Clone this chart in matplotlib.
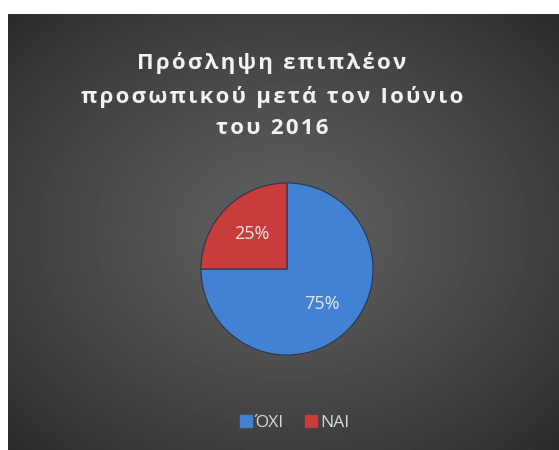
import numpy as np
import matplotlib.pyplot as plt
from matplotlib.lines import Line2D

# data
categories = ['ΌΧΙ', 'ΝΑΙ']
values = [75, 25]
colors = ['#4282d2', '#c83c3c']
title_lines = ['Πρόσληψη επιπλέον', 'προσωπικού μετά τον Ιούνιο', 'του 2016']

W, H = 559, 450
fig = plt.figure(figsize=(W / 100, H / 100), dpi=100)
fig.patch.set_facecolor('white')

# chart area with radial gradient
bg = fig.add_axes([8 / W, 0, (W - 8) / W, (H - 14) / H])
yy, xx = np.mgrid[0:1:300j, 0:1:400j]
r = np.sqrt(((xx - 0.5) / 0.75) ** 2 + ((yy - 0.5) / 0.75) ** 2)
r = np.clip(r / 0.95, 0, 1)
c0, c1 = 0.37, 0.17
img = c0 + (c1 - c0) * r ** 1.3
bg.imshow(img, cmap='gray', vmin=0, vmax=1, extent=[0, 1, 0, 1], aspect='auto')
bg.set_axis_off()


def spaced(s):
    return '\u200a'.join(s)


for txt, y in zip(title_lines, [63, 97, 128]):
    fig.text(272 / W, 1 - y / H, spaced(txt), ha='center', va='center',
             fontsize=16, fontweight='bold', color='#f2f2f2',
             family=['Open Sans', 'DejaVu Sans'])

# pie
cx, cy, rad = 287, 269, 86
ax = fig.add_axes([(cx - rad) / W, (H - cy - rad) / H, 2 * rad / W, 2 * rad / H])
wedges, texts, autotexts = ax.pie(
    values, colors=colors, startangle=90, counterclock=False,
    autopct='%1.0f%%', pctdistance=0.58,
    wedgeprops=dict(edgecolor='#2a3550', linewidth=0.8),
    textprops=dict(color='#e6e6e6', fontsize=13, family='Open Sans'))
ax.set_xlim(-1, 1)
ax.set_ylim(-1, 1)
ax.set_aspect('equal')
ax.set_axis_off()

handles = [Line2D([], [], marker='s', linestyle='', markersize=8,
                  markerfacecolor=c, markeredgecolor=c) for c in colors]
fig.legend(handles, categories, loc='center', bbox_to_anchor=(294 / W, 1 - 423 / H),
           ncol=2, frameon=False, handletextpad=0.1, columnspacing=1.2,
           handlelength=0.8, prop=dict(family='Open Sans', size=12.5),
           labelcolor='#d9d9d9')

fig.savefig('out.png', dpi=100, facecolor='white')
